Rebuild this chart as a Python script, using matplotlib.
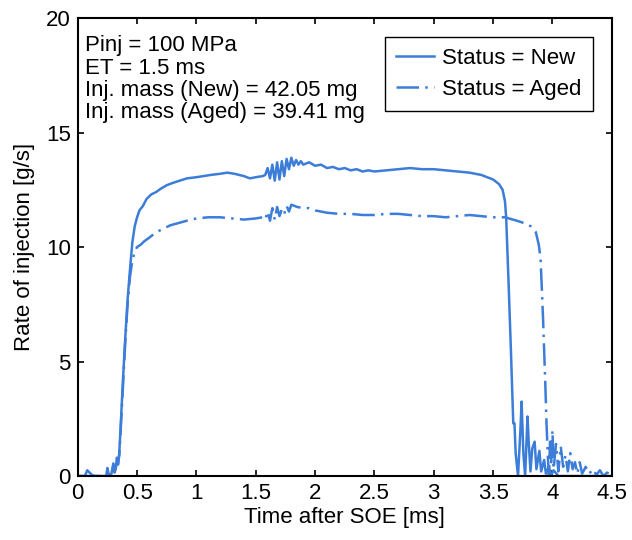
import numpy as np
import matplotlib
matplotlib.use("Agg")
import matplotlib.pyplot as plt

plt.rcParams['font.family'] = ['Liberation Sans', 'DejaVu Sans']

# rate of injection, status = New
t_new = [0.00, 0.06, 0.08, 0.10, 0.12, 0.14, 0.20, 0.24, 0.25, 0.26, 0.28, 0.30, 0.31, 0.32, 0.33,
         0.34, 0.35, 0.36, 0.38, 0.40, 0.42, 0.44, 0.45, 0.46, 0.48, 0.50, 0.52, 0.55, 0.58, 0.62,
         0.66, 0.70, 0.75, 0.80, 0.86, 0.92, 1.00, 1.06, 1.12, 1.20, 1.26, 1.32, 1.40, 1.45, 1.50,
         1.56, 1.58, 1.60, 1.62, 1.64, 1.66, 1.68, 1.70, 1.72, 1.74, 1.76, 1.78, 1.80, 1.82, 1.84,
         1.86, 1.88, 1.90, 1.95, 2.00, 2.05, 2.10, 2.15, 2.20, 2.25, 2.30, 2.35, 2.40, 2.45, 2.50,
         2.60, 2.70, 2.80, 2.90, 3.00, 3.10, 3.20, 3.30, 3.40, 3.45, 3.50, 3.55, 3.58, 3.60, 3.61,
         3.63, 3.65, 3.67, 3.68, 3.69, 3.71, 3.73, 3.74, 3.755, 3.77, 3.79, 3.80, 3.815, 3.83, 3.85,
         3.865, 3.89, 3.905, 3.93, 3.945, 3.97, 3.99, 4.01, 4.05, 4.50]
q_new = [0.0, 0.0, 0.25, 0.15, 0.05, 0.0, 0.0, 0.0, 0.35, 0.1, 0.0, 0.55, 0.15, 0.3, 0.8,
         0.5, 1.0, 2.0, 4.1, 6.0, 7.7, 9.0, 9.6, 10.2, 10.9, 11.3, 11.6, 11.8, 12.1, 12.3,
         12.4, 12.55, 12.7, 12.8, 12.9, 13.0, 13.05, 13.1, 13.15, 13.2, 13.25, 13.2, 13.1, 13.0, 13.05,
         13.1, 13.15, 13.45, 13.0, 13.6, 12.9, 13.7, 12.95, 13.75, 13.1, 13.85, 13.4, 13.9, 13.55, 13.8,
         13.6, 13.75, 13.6, 13.7, 13.55, 13.6, 13.45, 13.5, 13.4, 13.45, 13.35, 13.4, 13.3, 13.35, 13.3,
         13.35, 13.4, 13.45, 13.4, 13.4, 13.35, 13.3, 13.25, 13.15, 13.05, 12.95, 12.75, 12.5, 12.0, 11.3,
         8.5, 5.5, 2.3, 2.3, 1.0, 0.0, 2.0, 3.25, 1.0, 0.0, 2.6, 1.5, 0.2, 1.2, 1.5,
         0.3, 1.1, 0.2, 0.7, 0.1, 0.4, 0.05, 0.25, 0.0, 0.0]

# rate of injection, status = Aged
t_aged = [0.00, 0.26, 0.28, 0.30, 0.32, 0.34, 0.35, 0.36, 0.38, 0.40, 0.42, 0.44, 0.46, 0.48, 0.50,
          0.53, 0.56, 0.60, 0.65, 0.70, 0.78, 0.85, 0.92, 1.00, 1.10, 1.20, 1.30, 1.40, 1.50, 1.56,
          1.58, 1.60, 1.62, 1.64, 1.66, 1.68, 1.70, 1.72, 1.74, 1.76, 1.78, 1.80, 1.85, 1.90, 1.95,
          2.00, 2.10, 2.20, 2.30, 2.40, 2.50, 2.60, 2.70, 2.80, 2.90, 3.00, 3.10, 3.20, 3.30, 3.40,
          3.50, 3.60, 3.70, 3.76, 3.82, 3.86, 3.885, 3.90, 3.92, 3.94, 3.95, 3.96, 3.97, 3.98, 3.99,
          4.00, 4.01, 4.03, 4.05, 4.07, 4.09, 4.11, 4.13, 4.15, 4.17, 4.19, 4.21, 4.23, 4.25, 4.28,
          4.31, 4.34, 4.37, 4.40, 4.43, 4.46, 4.50]
q_aged = [0.0, 0.0, 0.1, 0.3, 0.5, 0.6, 0.9, 1.8, 3.8, 5.8, 7.5, 8.7, 9.4, 9.8, 10.0,
          10.1, 10.25, 10.4, 10.6, 10.75, 10.95, 11.05, 11.15, 11.25, 11.3, 11.3, 11.25, 11.2, 11.25, 11.3,
          11.2, 11.55, 11.15, 11.7, 11.2, 11.75, 11.35, 11.65, 11.45, 11.8, 11.55, 11.85, 11.75, 11.7, 11.7,
          11.6, 11.5, 11.45, 11.45, 11.4, 11.4, 11.45, 11.45, 11.4, 11.35, 11.35, 11.3, 11.35, 11.4, 11.35,
          11.3, 11.3, 11.15, 11.05, 10.9, 10.65, 10.1, 9.5, 7.0, 4.0, 2.3, 1.0, 0.0, 1.5, 0.6,
          2.0, 0.3, 1.4, 0.2, 1.3, 0.4, 0.9, 0.2, 1.0, 0.3, 0.6, 0.1, 0.6, 0.1, 0.4,
          0.1, 0.3, 0.05, 0.25, 0.0, 0.15, 0.05]

info = ["Pinj = 100 MPa", "ET = 1.5 ms", "Inj. mass (New) = 42.05 mg", "Inj. mass (Aged) = 39.41 mg"]
col = '#3b7dd8'
fs = 16

fig = plt.figure(figsize=(6.32, 5.4), dpi=100)
ax = fig.add_axes([0.123, 0.1185, 0.845, 0.848])

ax.plot(t_new, q_new, color=col, lw=1.8, label='Status = New')
ax.plot(t_aged, q_aged, color=col, lw=1.8, dashes=(9, 2.5, 1, 2.5), label='Status = Aged')

ax.set_xlim(0, 4.5)
ax.set_ylim(0, 20)
ax.set_xticks(np.arange(0, 4.51, 0.5))
ax.set_xticklabels(['0', '0.5', '1', '1.5', '2', '2.5', '3', '3.5', '4', '4.5'])
ax.set_yticks([0, 5, 10, 15, 20])
ax.tick_params(direction='in', top=True, right=True, length=4, width=1.2, labelsize=fs, pad=5)
for s in ax.spines.values():
    s.set_linewidth(1.5)
ax.set_xlabel('Time after SOE [ms]', fontsize=fs, labelpad=2)
ax.set_ylabel('Rate of injection [g/s]', fontsize=fs, labelpad=8)

ax.text(0.013, 0.962, "\n".join(info), transform=ax.transAxes, va='top', ha='left',
        fontsize=fs, linespacing=1.07)

leg = ax.legend(loc='upper right', fontsize=fs, fancybox=False, edgecolor='black',
                framealpha=1, handlelength=1.7, handletextpad=0.4, borderaxespad=0.85,
                labelspacing=0.45, borderpad=0.5)
leg.get_frame().set_linewidth(1.0)

fig.savefig('out.png', dpi=100)
